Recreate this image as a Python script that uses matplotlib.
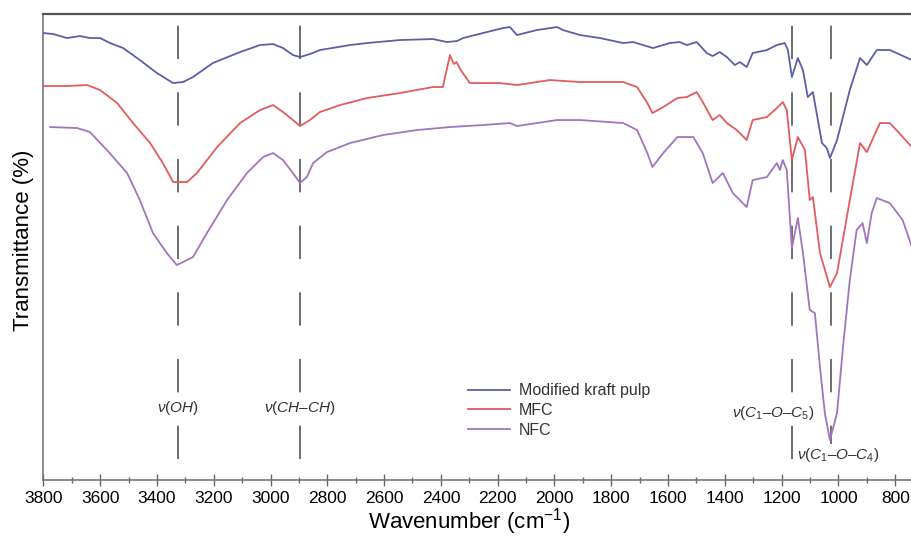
import matplotlib
matplotlib.use("Agg")
import matplotlib.pyplot as plt
from matplotlib.ticker import MultipleLocator, NullLocator

plt.rcParams['font.family'] = ['Liberation Sans', 'DejaVu Sans']
plt.rcParams['mathtext.fontset'] = 'custom'
plt.rcParams['mathtext.rm'] = 'Liberation Sans'
plt.rcParams['mathtext.it'] = 'Liberation Sans:italic'

# FTIR spectra, transmittance in arbitrary units (curves offset vertically)
wn_kraft = [3800, 3765, 3717, 3671, 3636, 3600, 3565, 3519, 3460, 3400, 3343, 3308,
            3273, 3203, 3107, 3037, 2991, 2956, 2921, 2896, 2861, 2826, 2720, 2660,
            2544, 2428, 2379, 2343, 2322, 2252, 2181, 2157, 2132, 2062, 1991, 1970,
            1910, 1840, 1758, 1723, 1653, 1594, 1559, 1534, 1499, 1464, 1443, 1418,
            1393, 1365, 1347, 1323, 1302, 1252, 1217, 1189, 1178, 1164, 1143, 1125,
            1108, 1090, 1058, 1041, 1030, 1005, 960, 924, 900, 865, 819, 741]
t_kraft = [447, 446, 442, 444, 442, 442, 437, 432, 420, 407, 397, 398,
           403, 417, 428, 435, 436, 432, 425, 423, 426, 430, 435, 437,
           440, 441, 438, 439, 442, 447, 452, 453, 445, 450, 453, 450,
           445, 442, 437, 438, 432, 437, 438, 435, 438, 427, 424, 428,
           423, 415, 418, 413, 427, 430, 435, 437, 430, 403, 422, 410,
           383, 388, 337, 332, 322, 340, 390, 422, 415, 430, 430, 420]

wn_mfc = [3800, 3717, 3646, 3600, 3540, 3484, 3424, 3379, 3343, 3294, 3259, 3188,
          3107, 3037, 2991, 2956, 2921, 2896, 2861, 2826, 2755, 2660, 2544, 2428,
          2393, 2368, 2355, 2345, 2330, 2298, 2192, 2132, 2016, 1910, 1758, 1709,
          1673, 1655, 1617, 1567, 1534, 1499, 1478, 1443, 1418, 1393, 1358, 1323,
          1302, 1252, 1217, 1196, 1182, 1164, 1143, 1118, 1101, 1090, 1065, 1030,
          1005, 960, 924, 900, 854, 819, 741]
t_mfc = [394, 394, 395, 390, 377, 357, 337, 317, 298, 298, 307, 333,
         357, 370, 375, 368, 360, 354, 360, 368, 375, 382, 387, 393,
         393, 425, 416, 418, 410, 397, 397, 395, 400, 398, 398, 393,
         377, 367, 373, 382, 383, 388, 378, 360, 365, 357, 350, 340,
         360, 363, 372, 378, 370, 320, 343, 330, 280, 283, 227, 193,
         207, 280, 337, 328, 357, 357, 333]

wn_nfc = [3776, 3681, 3636, 3576, 3505, 3460, 3414, 3365, 3330, 3294, 3273, 3224,
          3153, 3083, 3026, 2991, 2956, 2921, 2896, 2872, 2850, 2801, 2720, 2604,
          2484, 2368, 2252, 2157, 2132, 1991, 1910, 1758, 1709, 1673, 1655, 1617,
          1567, 1511, 1478, 1443, 1407, 1372, 1323, 1302, 1252, 1217, 1206, 1196,
          1182, 1164, 1143, 1125, 1101, 1083, 1065, 1048, 1030, 1005, 984, 960,
          936, 915, 900, 883, 865, 819, 774, 741]
t_nfc = [353, 352, 348, 330, 307, 280, 247, 227, 215, 220, 223, 247,
         280, 307, 323, 327, 320, 307, 297, 303, 317, 328, 337, 345,
         350, 353, 355, 357, 354, 360, 360, 357, 350, 327, 313, 327,
         343, 343, 327, 297, 307, 287, 273, 300, 303, 317, 310, 320,
         310, 232, 262, 227, 170, 167, 113, 67, 40, 67, 133, 200,
         250, 257, 237, 267, 282, 277, 260, 233]

band_pos = [3326, 2896, 1164, 1027]

fig = plt.figure(figsize=(9.12, 5.4), dpi=100)
ax = fig.add_axes([0.0475, 0.111, 0.9525, 0.863])

# band guides
for wn in band_pos:
    ax.plot([wn, wn], [1, 0], transform=ax.get_xaxis_transform(),
            color='#555555', lw=1.2, linestyle=(33, (20, 20)), zorder=1)

ax.plot(wn_kraft, t_kraft, color='#5c5fa8', lw=1.3, label='Modified kraft pulp', zorder=3)
ax.plot(wn_mfc, t_mfc, color='#e35b5d', lw=1.3, label='MFC', zorder=3)
ax.plot(wn_nfc, t_nfc, color='#a274bd', lw=1.3, label='NFC', zorder=3)

box = dict(facecolor='white', edgecolor='none', pad=1.5)
txt = dict(fontsize=11, color='#333333', ha='center', va='center', bbox=box, zorder=4)
ax.text(3326, 72, r'$\nu\mathit{(OH)}$', **txt)
ax.text(2896, 72, r'$\nu\mathit{(CH–CH)}$', **txt)
ax.text(1231, 67, r'$\nu\mathit{(C_1–O–C_5)}$', **txt)
ax.text(1002, 25, r'$\nu\mathit{(C_1–O–C_4)}$', **txt)

ax.set_xlim(3800, 741)
ax.set_ylim(0, 466)
ax.xaxis.set_major_locator(MultipleLocator(200))
ax.xaxis.set_minor_locator(MultipleLocator(100))
ax.yaxis.set_major_locator(NullLocator())
ax.tick_params(axis='x', which='major', direction='inout', length=8, width=1,
               color='#666666', labelsize=12.5, pad=4)
ax.tick_params(axis='x', which='minor', direction='inout', length=5, width=1,
               color='#666666')
ax.spines['right'].set_visible(False)
ax.spines['top'].set_linewidth(1.6)
ax.spines['top'].set_color('#555555')
for s in ['left', 'bottom']:
    ax.spines[s].set_color('#777777')
    ax.spines[s].set_linewidth(1.2)

ax.set_xlabel('Wavenumber (cm$^{-1}$)', fontsize=16)
ax.set_ylabel('Transmittance (%)', fontsize=16)
ax.xaxis.set_label_coords(0.49, -0.055, transform=ax.transAxes)
ax.yaxis.set_label_coords(-0.011, 0.515, transform=ax.transAxes)
ax.xaxis.label.set_va('top')

leg = ax.legend(loc='upper left', bbox_to_anchor=(0.489, 0.208), frameon=False,
                fontsize=11.5, handlelength=2.6, handletextpad=0.6,
                labelspacing=0.3, borderpad=0, borderaxespad=0)
for t in leg.get_texts():
    t.set_color('#333333')

fig.savefig('out.png', dpi=100)
